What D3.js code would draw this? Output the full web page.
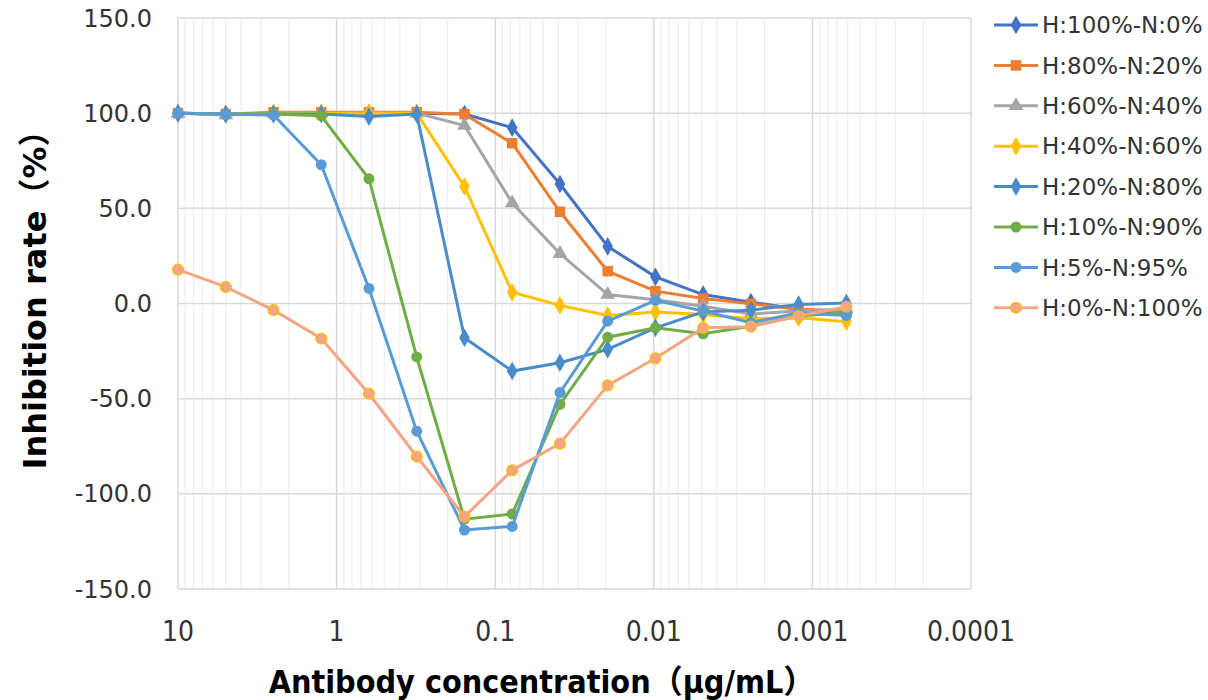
<html>
<head>
<meta charset="utf-8">
<style>
  body { margin: 0; background: #fff; }
  .tick-y { font-family: "DejaVu Sans", sans-serif; font-size: 24px; fill: #333; }
  .tick-x { font-family: "DejaVu Sans Condensed", "Liberation Sans Narrow", "DejaVu Sans", sans-serif; font-size: 28px; fill: #333; }
  .xtitle { font-family: "DejaVu Sans Condensed", "DejaVu Sans", "Noto Sans CJK JP", sans-serif; font-weight: bold; font-size: 32px; fill: #000; }
  .ytitle { font-family: "DejaVu Sans", "Noto Sans CJK JP", sans-serif; font-weight: bold; font-size: 32px; fill: #000; }
  .leg { font-family: "DejaVu Sans", sans-serif; font-size: 23px; fill: #333; }
</style>
</head>
<body>
<svg width="1208" height="700"></svg>
<script src="https://d3js.org/d3.v7.min.js"></script>
<script>
// antibody concentration (ug/mL), 2-fold dilutions
var conc = [10, 5, 2.5, 1.25, 0.625, 0.3125, 0.15625, 0.078125, 0.0390625,
  0.01953125, 0.009765625, 0.0048828125, 0.00244140625, 0.001220703125, 0.0006103515625];

var names = ["H:100%-N:0%", "H:80%-N:20%", "H:60%-N:40%", "H:40%-N:60%",
  "H:20%-N:80%", "H:10%-N:90%", "H:5%-N:95%", "H:0%-N:100%"];

var h100 = [100, 99.5, 100, 100, 100, 100, 99.5, 92.4, 62.8, 30.0, 14.0, 4.7, 0.7, -3, -5];
var h80  = [100, 99.5, 100.5, 100.5, 100.5, 100.5, 99.5, 84.2, 48.2, 17.0, 6.5, 2.6, -0.2, -3, -4];
var h60  = [100, 99, 100, 100, 100, 100, 93.5, 52.8, 26.2, 4.7, 2.0, -1.4, -5.5, -4, -3];
var h40  = [100, 99.5, 100, 100, 100, 100, 61.5, 5.9, -1.0, -6.3, -4.5, -5.8, -8, -7.5, -9.6];
var h20  = [100, 99.5, 99.5, 99.5, 98.2, 99.5, -18, -35.5, -31.1, -24.1, -12.8, -4.4, -3.5, -0.5, 0.3];
var h10  = [100, 99.5, 99.5, 98.6, 65.5, -28.1, -113.3, -110.6, -53, -17.7, -12.8, -15.9, -11.9, -6.6, -4.7];
var h5   = [100, 99.5, 99, 72.9, 7.9, -67.1, -119, -117.1, -46.8, -9.3, 1.7, -4.0, -10.1, -4.9, -6.3];
var h0   = [17.8, 8.7, -3.5, -18.4, -47.4, -80.4, -112, -87.6, -73.6, -43, -28.8, -12.8, -12.2, -6.6, -1.7];

var values = [h100, h80, h60, h40, h20, h10, h5, h0];
var colors = ["#4472C4", "#ED7D31", "#A5A5A5", "#FFC000", "#4A8BC9", "#70AD47", "#5B9BD5", "#F4A583"];
var shapes = [d3.symbolDiamond, d3.symbolSquare, d3.symbolTriangle, d3.symbolDiamond,
  d3.symbolDiamond, d3.symbolCircle, d3.symbolCircle, d3.symbolCircle];

var xTicks = [10, 1, 0.1, 0.01, 0.001, 0.0001];
var xTickLabels = ["10", "1", "0.1", "0.01", "0.001", "0.0001"];
var yTicks = [150, 100, 50, 0, -50, -100, -150];

var svg = d3.select("svg");
var pLeft = 178, pRight = 971, pTop = 18, pBottom = 589;

var x = d3.scaleLog().domain([10, 0.0001]).range([pLeft, pRight]);
var y = d3.scaleLinear().domain([-150, 150]).range([pBottom, pTop]);

// minor vertical grid
var minor = [];
for (var e = -4; e < 1; e++) {
  for (var k = 2; k <= 9; k++) minor.push(k * Math.pow(10, e));
}
svg.append("g").selectAll("line").data(minor).enter().append("line")
  .attr("x1", d => x(d)).attr("x2", d => x(d))
  .attr("y1", pTop).attr("y2", pBottom)
  .attr("stroke", "#efefef").attr("stroke-width", 1.3);

// major grid
svg.append("g").selectAll("line").data(xTicks).enter().append("line")
  .attr("x1", d => x(d)).attr("x2", d => x(d))
  .attr("y1", pTop).attr("y2", pBottom)
  .attr("stroke", "#d9d9d9").attr("stroke-width", 1.5);
svg.append("g").selectAll("line").data(yTicks).enter().append("line")
  .attr("x1", pLeft).attr("x2", pRight)
  .attr("y1", d => y(d)).attr("y2", d => y(d))
  .attr("stroke", "#d9d9d9").attr("stroke-width", 1.5);

// tick labels
svg.append("g").selectAll("text").data(yTicks).enter().append("text")
  .attr("class", "tick-y")
  .attr("x", 152).attr("y", d => y(d)).attr("dy", "0.36em")
  .attr("text-anchor", "end")
  .text(d => d.toFixed(1));

svg.append("g").selectAll("text").data(xTicks).enter().append("text")
  .attr("class", "tick-x")
  .attr("x", d => x(d)).attr("y", 641)
  .attr("text-anchor", "middle")
  .text((d, i) => xTickLabels[i]);

// series
var line = d3.line().x((d, i) => x(conc[i])).y(d => y(d));
function markSize(s) {
  if (shapes[s] == d3.symbolTriangle) return 95;
  if (shapes[s] == d3.symbolSquare) return 110;
  if (shapes[s] == d3.symbolCircle) return 95;
  return 100;
}
values.forEach(function (vals, s) {
  var g = svg.append("g");
  g.append("path").datum(vals)
    .attr("fill", "none")
    .attr("stroke", colors[s])
    .attr("stroke-width", 3)
    .attr("d", line);
  g.selectAll("path.pt").data(vals).enter().append("path")
    .attr("class", "pt")
    .attr("transform", (d, i) => "translate(" + x(conc[i]) + "," + y(d) + ")")
    .attr("d", d3.symbol().type(shapes[s]).size(markSize(s)))
    .attr("fill", colors[s])
    .attr("stroke", s == 7 ? "#FFC000" : "none")
    .attr("stroke-width", 1.2);
});

// legend
var leg = svg.append("g");
names.forEach(function (n, i) {
  var ly = 25 + i * 40.4;
  leg.append("line")
    .attr("x1", 994).attr("x2", 1038).attr("y1", ly).attr("y2", ly)
    .attr("stroke", colors[i]).attr("stroke-width", 3);
  leg.append("path")
    .attr("transform", "translate(1016," + ly + ")")
    .attr("d", d3.symbol().type(shapes[i]).size(markSize(i)))
    .attr("fill", colors[i])
    .attr("stroke", i == 7 ? "#FFC000" : "none")
    .attr("stroke-width", 1.2);
  leg.append("text").attr("class", "leg")
    .attr("x", 1042).attr("y", ly).attr("dy", "0.36em")
    .text(n);
});

// axis titles
svg.append("text").attr("class", "xtitle")
  .attr("x", 542).attr("y", 693)
  .attr("text-anchor", "middle")
  .text("Antibody concentration（μg/mL）");

svg.append("text").attr("class", "ytitle")
  .attr("transform", "translate(46,292) rotate(-90)")
  .attr("text-anchor", "middle")
  .text("Inhibition rate（%）");
</script>
</body>
</html>
